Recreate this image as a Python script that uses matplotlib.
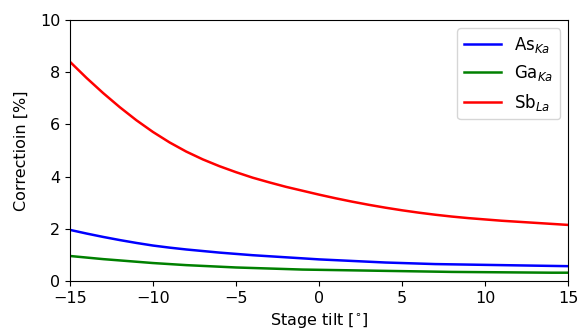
import matplotlib
matplotlib.use("Agg")
import matplotlib.pyplot as plt

tilt = list(range(-15, 16))
as_ka = [1.96, 1.82, 1.69, 1.57, 1.46, 1.36, 1.28, 1.21, 1.15, 1.09, 1.04,
         0.99, 0.95, 0.91, 0.87, 0.83, 0.80, 0.77, 0.74, 0.71, 0.69,
         0.67, 0.65, 0.64, 0.63, 0.62, 0.61, 0.60, 0.59, 0.58, 0.57]
ga_ka = [0.96, 0.90, 0.84, 0.79, 0.74, 0.69, 0.65, 0.61, 0.58, 0.55, 0.52,
         0.50, 0.48, 0.46, 0.44, 0.43, 0.42, 0.41, 0.40, 0.39, 0.38,
         0.37, 0.36, 0.35, 0.345, 0.34, 0.335, 0.33, 0.325, 0.32, 0.32]
sb_la = [8.40, 7.78, 7.20, 6.66, 6.16, 5.71, 5.31, 4.96, 4.66, 4.40, 4.17,
         3.96, 3.78, 3.61, 3.46, 3.31, 3.17, 3.04, 2.92, 2.81, 2.71,
         2.62, 2.54, 2.47, 2.41, 2.36, 2.31, 2.27, 2.23, 2.19, 2.15]

labels = [r'As$_{Ka}$', r'Ga$_{Ka}$', r'Sb$_{La}$']
colors = ['b', 'g', 'r']

fig = plt.figure(figsize=(5.78, 3.33), dpi=100)
ax = fig.add_axes([0.121, 0.156, 0.862, 0.784])

for ys, lab, c in zip([as_ka, ga_ka, sb_la], labels, colors):
    ax.plot(tilt, ys, color=c, lw=1.8, label=lab)

ax.set_xlim(-15, 15)
ax.set_ylim(0, 10)
ax.set_xticks([-15, -10, -5, 0, 5, 10, 15])
ax.set_yticks([0, 2, 4, 6, 8, 10])
ax.tick_params(labelsize=11.5)
ax.set_xlabel(r'Stage tilt [$^{\circ}$]', fontsize=11.5)
ax.set_ylabel('Correctioin [%]', fontsize=11.5, labelpad=8)
ax.legend(loc='upper right', fontsize=12, borderpad=0.4, labelspacing=0.5,
          handlelength=2.2)

fig.savefig('out.png', dpi=100)
